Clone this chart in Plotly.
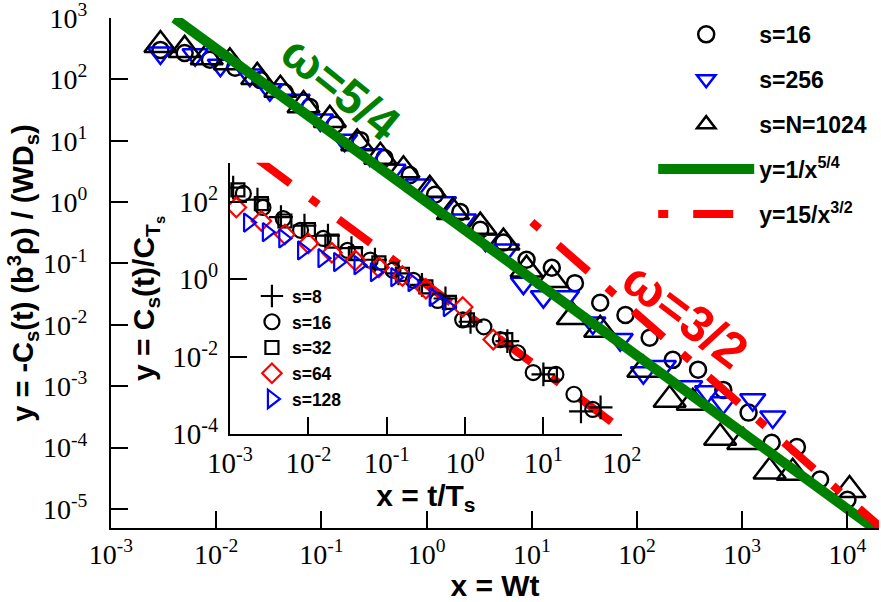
import numpy as np
import plotly.graph_objects as go

# ---- main panel: values (log10 of x and y) ----
s16_lx = [-2.53, -2.30, -2.06, -1.82, -1.58, -1.35, -1.11, -0.87, -0.63, -0.40, -0.16, 0.08,
          0.32, 0.51, 0.73, 0.95, 1.19, 1.41, 1.65, 1.89, 2.12, 2.34, 2.58, 2.82, 3.06, 3.28,
          3.52, 3.74, 4.00]
s16_ly = [2.48, 2.43, 2.32, 2.19, 1.99, 1.79, 1.55, 1.26, 1.01, 0.72, 0.44, 0.12,
          -0.16, -0.45, -0.66, -0.94, -1.07, -1.32, -1.64, -1.84, -2.21, -2.57, -2.73, -3.06, -3.43, -3.92,
          -3.99, -4.52, -4.85]

s256_lx = [-2.53, -2.20, -1.96, -1.68, -1.49, -1.23, -1.01, -0.78, -0.54, -0.32, -0.08, 0.16,
           0.35, 0.56, 0.76, 0.92, 1.11, 1.33, 1.58, 1.84, 2.06, 2.25, 2.50, 2.67, 2.82, 3.10, 3.29]
s256_ly = [2.43, 2.40, 2.23, 2.07, 1.83, 1.66, 1.34, 1.01, 0.77, 0.52, 0.28, -0.01,
           -0.29, -0.62, -0.78, -1.32, -1.54, -1.54, -1.97, -2.24, -2.78, -2.68, -3.01, -3.09, -3.27, -3.22, -3.50]

s1024_lx = [-2.53, -2.30, -2.09, -1.87, -1.61, -1.39, -1.17, -0.92, -0.66, -0.44, -0.22, 0.03,
            0.25, 0.51, 0.73, 0.95, 1.19, 1.39, 1.65, 2.06, 2.31, 2.53, 2.79, 3.01, 3.26, 3.48, 4.02]
s1024_ly = [2.56, 2.48, 2.36, 2.28, 2.04, 1.83, 1.58, 1.34, 0.96, 0.74, 0.52, 0.20,
            -0.16, -0.40, -0.66, -1.10, -1.27, -1.87, -2.08, -2.73, -3.22, -3.27, -3.84, -3.91, -4.39, -4.41, -4.69]

# power laws drawn in the main panel
green_x = [0.004, 3e4]          # y = 1/x^(5/4)
red_x = [10, 3e4]               # y = 15/x^(3/2)
red_amp = 15

# ---- inset: values (log10) ----
in8_lx = [-2.96, -2.65, -2.35, -2.05, -1.75, -1.45, -1.15, -0.85, -0.55, -0.25, 0.07, 0.54, 1.00, 1.48, 1.73]
in8_ly = [2.36, 2.05, 1.60, 1.38, 1.12, 0.80, 0.50, 0.15, -0.15, -0.50, -1.10, -1.60, -2.46, -3.41, -3.31]

in16_lx = [-2.83, -2.58, -2.32, -2.10, -1.81, -1.50, -1.21, -0.92, -0.66, -0.35, -0.03, 0.24, 0.45,
           0.67, 0.87, 1.16, 1.39, 1.63]
in16_ly = [2.21, 1.85, 1.56, 1.26, 1.05, 0.74, 0.49, 0.23, -0.03, -0.55, -1.05, -1.23, -1.56,
           -1.90, -2.41, -2.46, -2.97, -3.36]

in32_lx = [-2.90, -2.60, -2.30, -2.00, -1.70, -1.40, -1.10, -0.80, -0.50, -0.20, 0.03, 0.52, 1.09]
in32_ly = [2.30, 1.95, 1.50, 1.28, 0.98, 0.66, 0.42, 0.12, -0.20, -0.60, -1.05, -1.56, -2.46]

in64_lx = [-2.92, -2.60, -2.30, -2.00, -1.70, -1.40, -1.10, -0.80, -0.50, -0.03, 0.36]
in64_ly = [1.85, 1.50, 1.15, 0.92, 0.68, 0.48, 0.30, 0.08, -0.25, -0.72, -1.56]

in128_lx = [-2.77, -2.53, -2.32, -2.08, -1.82, -1.62, -1.36, -1.15, -0.89, -0.67, -0.40, -0.22]
in128_ly = [1.46, 1.21, 1.05, 0.74, 0.54, 0.44, 0.36, 0.18, 0.05, -0.08, -0.46, -0.72]

inset_red_x = [1e-3, 1e2]       # y = 0.132/x^(3/2)
inset_red_amp = 0.132

main_xticks = list(range(-3, 5))
main_yticks = list(range(-5, 4))
inset_xticks = list(range(-3, 3))
inset_yticks = [-4, -2, 0, 2]


def p10(a):
    return 10 ** np.array(a, dtype=float)


GREEN = "#008000"
RED = "#ff0000"
BLUE = "#0000ff"
serif = "Liberation Serif"
sans = "Liberation Sans"
DASHDOT = "10px,25px,40px,25px"

fig = go.Figure()

# main panel
fig.add_trace(go.Scatter(x=p10(s16_lx), y=p10(s16_ly), mode="markers", name="<b>s=16</b>",
                         legendgroup="a",
                         marker=dict(symbol="circle-open", size=16, color="black",
                                     line=dict(width=2.5, color="black"))))
fig.add_trace(go.Scatter(x=p10(s256_lx), y=p10(s256_ly), mode="markers", name="<b>s=256</b>",
                         legendgroup="b",
                         marker=dict(symbol="triangle-down-open", size=22, color=BLUE,
                                     line=dict(width=2.5, color=BLUE))))
fig.add_trace(go.Scatter(x=p10(s1024_lx), y=p10(s1024_ly), mode="markers", name="<b>s=N=1024</b>",
                         legendgroup="c",
                         marker=dict(symbol="triangle-up-open", size=28, color="black",
                                     line=dict(width=2.5, color="black"))))
gx = np.array(green_x)
fig.add_trace(go.Scatter(x=gx, y=1 / gx ** 1.25, mode="lines", name="<b>y=1/x<sup>5/4</sup></b>",
                         legendgroup="d", line=dict(color=GREEN, width=10)))
rx = np.array(red_x)
fig.add_trace(go.Scatter(x=rx, y=red_amp / rx ** 1.5, mode="lines", name="<b>y=15/x<sup>3/2</sup></b>",
                         legendgroup="e", line=dict(color=RED, width=8, dash=DASHDOT)))

# inset
ix = np.array(inset_red_x)
fig.add_trace(go.Scatter(x=ix, y=inset_red_amp / ix ** 1.5, mode="lines", xaxis="x2", yaxis="y2",
                         showlegend=False, line=dict(color=RED, width=8, dash=DASHDOT)))
inset_series = [
    (in8_lx, in8_ly, "<b>s=8</b>", "cross-thin", 17, "black"),
    (in16_lx, in16_ly, "<b>s=16</b>", "circle-open", 15, "black"),
    (in32_lx, in32_ly, "<b>s=32</b>", "square-open", 13, "black"),
    (in64_lx, in64_ly, "<b>s=64</b>", "diamond-open", 15, RED),
    (in128_lx, in128_ly, "<b>s=128</b>", "triangle-right-open", 16, BLUE),
]
for lx, ly, name, sym, sz, col in inset_series:
    fig.add_trace(go.Scatter(x=p10(lx), y=p10(ly), mode="markers", name=name,
                             xaxis="x2", yaxis="y2", legend="legend2",
                             marker=dict(symbol=sym, size=sz, color=col,
                                         line=dict(width=2.2, color=col))))


def log_axis(ticks, size, **kw):
    d = dict(type="log", showline=True, linecolor="black", linewidth=2,
             ticks="inside", ticklen=17, tickwidth=1.5, tickcolor="black",
             tickvals=[10.0 ** k for k in ticks],
             ticktext=[f"10<sup>{k}</sup>" for k in ticks],
             tickfont=dict(family=serif, size=size, color="black"),
             ticklabeloverflow="allow",
             showgrid=False, zeroline=False, mirror=False, automargin=False)
    d.update(kw)
    return d


title_font = dict(family=sans, size=30, color="black")

fig.update_layout(
    width=881, height=602,
    margin=dict(l=111, r=2, t=18, b=74),
    paper_bgcolor="white", plot_bgcolor="rgba(0,0,0,0)",
    xaxis=log_axis(main_xticks, 28, range=[-3, 4.3], domain=[0, 1], anchor="y",
                   ticklabelstandoff=0,
                   title=dict(text="<b>x = Wt</b>", font=title_font, standoff=21)),
    yaxis=log_axis(main_yticks, 28, range=[-5.31, 3.0], domain=[0, 1], anchor="x",
                   ticklabelstandoff=16,
                   title=dict(text="<b>y = -C<sub>s</sub>(t) (b<sup>3</sup>ρ) / (WD<sub>s</sub>)</b>",
                              font=dict(family=sans, size=29, color="black"), standoff=0)),
    xaxis2=log_axis(inset_xticks, 29, range=[-3, 2], domain=[0.155, 0.665], anchor="y2",
                    ticklabelstandoff=2,
                    title=dict(text="<b>x = t/T<sub>s</sub></b>", font=title_font, standoff=7)),
    yaxis2=log_axis(inset_yticks, 29, range=[-4, 3], domain=[0.184, 0.716], anchor="x2",
                    ticklabelstandoff=4,
                    title=dict(text="<b>y = C<sub>s</sub>(t)/C<sub>T<sub>s</sub></sub></b>",
                               font=title_font, standoff=9)),
    legend=dict(x=0.706, y=1.01, xanchor="left", yanchor="top", bgcolor="rgba(0,0,0,0)",
                font=dict(family=sans, size=23, color="black"), tracegroupgap=12,
                itemwidth=96),
    legend2=dict(x=0.1835, y=0.49, xanchor="left", yanchor="top", bgcolor="rgba(0,0,0,0)",
                 font=dict(family=sans, size=17.5, color="black"), tracegroupgap=0,
                 itemwidth=30),
    annotations=[
        dict(text="<b>ω=5/4</b>", x=0.30, y=0.862, xref="paper", yref="paper",
             xanchor="center", yanchor="middle", showarrow=False, textangle=39,
             font=dict(family=sans, size=48, color=GREEN)),
        dict(text="<b>ω=3/2</b>", x=0.748, y=0.418, xref="paper", yref="paper",
             xanchor="center", yanchor="middle", showarrow=False, textangle=37,
             font=dict(family=sans, size=50, color=RED)),
    ],
)

fig.write_html("out.html", config={"displayModeBar": False},
               post_script="document.body.style.margin='0';")
